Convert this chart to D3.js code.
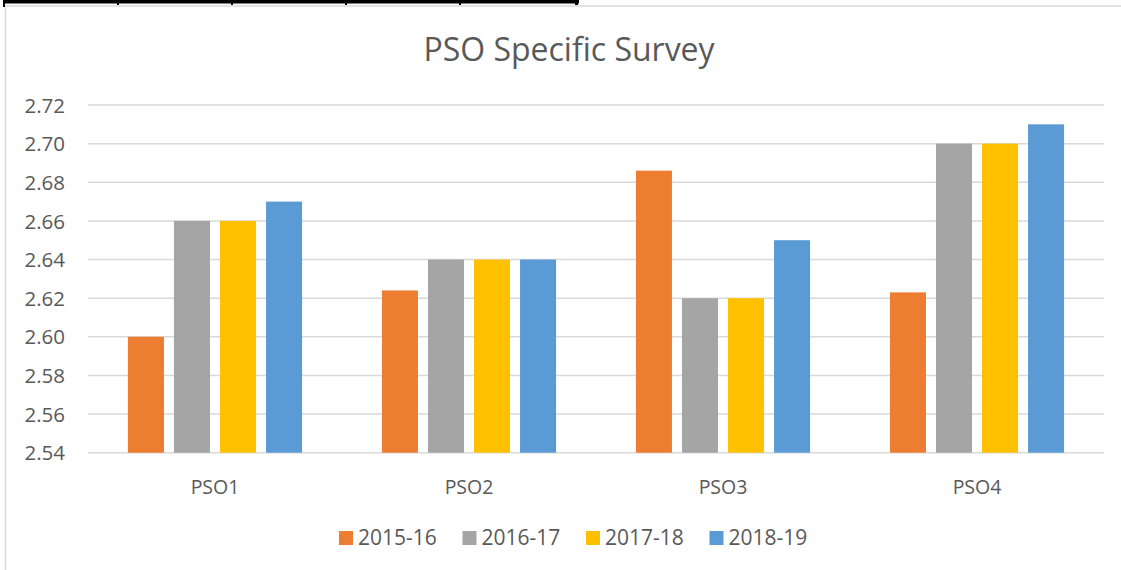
<!DOCTYPE html>
<html>
<head>
<meta charset="utf-8">
<script src="https://cdn.jsdelivr.net/npm/d3@7"></script>
<style>
  html, body { margin: 0; padding: 0; background: #fff; }
  svg { display: block; }
  text { font-family: "Open Sans", "Noto Sans", sans-serif; fill: #595959; }
</style>
</head>
<body>
<svg id="chart" width="1121" height="570"></svg>
<script>
// Survey scores per programme-specific outcome
const categories = ["PSO1", "PSO2", "PSO3", "PSO4"];
const seriesNames = ["2015-16", "2016-17", "2017-18", "2018-19"];
const values2015 = [2.600, 2.624, 2.686, 2.623];
const values2016 = [2.66, 2.64, 2.62, 2.70];
const values2017 = [2.66, 2.64, 2.62, 2.70];
const values2018 = [2.67, 2.64, 2.65, 2.71];
const yTicks = [2.54, 2.56, 2.58, 2.60, 2.62, 2.64, 2.66, 2.68, 2.70, 2.72];
const colors = ["#ED7D31", "#A5A5A5", "#FFC000", "#5B9BD5"];

const seriesValues = [values2015, values2016, values2017, values2018];
const rows = categories.map((c, i) => ({
  category: c,
  values: seriesNames.map((s, j) => ({ series: s, value: seriesValues[j][i] }))
}));

const svg = d3.select("#chart");
const W = 1121, H = 570;
const plot = { left: 88, right: 1104, top: 105, bottom: 452.7 };

svg.append("rect").attr("width", W).attr("height", H).attr("fill", "#fff");

// Frame of the chart area
svg.append("line").attr("x1", 5).attr("x2", W).attr("y1", 6).attr("y2", 6)
  .attr("stroke", "#d9d9d9").attr("stroke-width", 1.5);
svg.append("line").attr("x1", 5.5).attr("x2", 5.5).attr("y1", 6).attr("y2", H)
  .attr("stroke", "#d9d9d9").attr("stroke-width", 1.5);

// Dark header strip above the chart
svg.append("rect").attr("x", 3).attr("y", 0).attr("width", 576).attr("height", 3.5).attr("fill", "#000");
[4, 118, 232, 346, 460, 576].forEach((x, i) => {
  svg.append("rect").attr("x", x - 1).attr("y", 0).attr("width", i === 5 ? 3 : 2)
    .attr("height", i === 0 ? 7 : 5).attr("fill", "#000");
});

const x0 = d3.scaleBand().domain(categories).range([plot.left, plot.right])
  .paddingInner(0.3144).paddingOuter(0.1572);
const x1 = d3.scaleBand().domain(seriesNames).range([0, x0.bandwidth()]).paddingInner(0.2174);
const y = d3.scaleLinear().domain([2.54, 2.72]).range([plot.bottom, plot.top]);
const color = d3.scaleOrdinal().domain(seriesNames).range(colors);

// Horizontal gridlines
svg.append("g")
  .selectAll("line").data(yTicks).join("line")
  .attr("x1", plot.left).attr("x2", plot.right)
  .attr("y1", d => y(d)).attr("y2", d => y(d))
  .attr("stroke", "#d9d9d9").attr("stroke-width", 1.5);

// Y axis labels
const yAxis = d3.axisLeft(y).tickValues(yTicks).tickFormat(d3.format(".2f")).tickSize(0).tickPadding(0);
const yg = svg.append("g").attr("transform", "translate(65,0)").call(yAxis);
yg.select(".domain").remove();
yg.selectAll("text").attr("font-size", 20.5).attr("font-family", "'Open Sans', sans-serif")
  .attr("fill", "#595959").attr("dy", "0.35em");

// Bars
svg.append("g").selectAll("g").data(rows).join("g")
  .attr("transform", d => `translate(${x0(d.category)},0)`)
  .selectAll("rect").data(d => d.values).join("rect")
  .attr("x", d => x1(d.series))
  .attr("width", x1.bandwidth())
  .attr("y", d => y(d.value))
  .attr("height", d => y(2.54) - y(d.value))
  .attr("fill", d => color(d.series));

// Category labels
const xAxis = d3.axisBottom(x0).tickSize(0).tickPadding(0);
const xg = svg.append("g").attr("transform", "translate(0,487)").call(xAxis);
xg.select(".domain").remove();
xg.selectAll("text").attr("font-size", 19.5).attr("font-family", "'Open Sans', sans-serif")
  .attr("fill", "#595959").attr("dy", "0.35em");

// Title
svg.append("text").attr("x", 569).attr("y", 61).attr("text-anchor", "middle")
  .attr("font-size", 32).text("PSO Specific Survey");

// Legend
const legendX = d3.scaleBand().domain(seriesNames).range([339, 833]);
const lg = svg.append("g").selectAll("g").data(seriesNames).join("g")
  .attr("transform", d => `translate(${legendX(d)},531)`);
lg.append("rect").attr("width", 14).attr("height", 14).attr("fill", d => color(d));
lg.append("text").attr("x", 19).attr("y", 7).attr("dy", "0.35em")
  .attr("font-size", 21).text(d => d);
</script>
</body>
</html>
